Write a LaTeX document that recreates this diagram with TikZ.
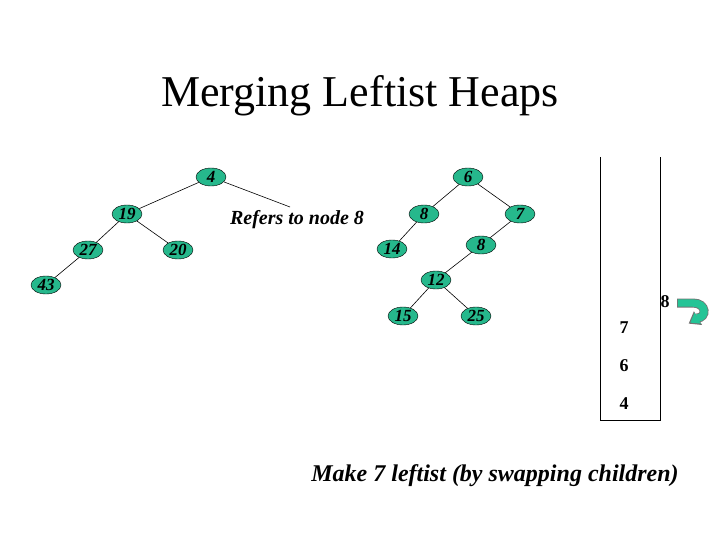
\documentclass[tikz,border=0pt]{standalone}
\usepackage{fontspec}
\setmainfont{Liberation Serif}
\usetikzlibrary{shapes.geometric}
\definecolor{nodegreen}{RGB}{38,184,140}
\definecolor{arrowgreen}{RGB}{36,196,150}
\tikzset{
  hn/.style={ellipse, draw=black, fill=nodegreen, minimum width=30pt, minimum height=18pt, inner sep=0pt, font=\fontsize{17}{17}\selectfont\bfseries\itshape},
  edge/.style={draw=black, line width=0.6pt},
  stk/.style={font=\fontsize{18}{18}\selectfont\bfseries, inner sep=0pt}
}
\begin{document}
\begin{tikzpicture}[x=1pt,y=-1pt]
\useasboundingbox (0,0) rectangle (720,540);
\node[font=\fontsize{44}{44}\selectfont] (title) at (360,96) {Merging Leftist Heaps};
% left heap
\node[hn] (n4) at (211,177) {4};
\node[hn] (n19) at (127,214) {19};
\node[hn] (n27) at (88,250) {27};
\node[hn] (n20) at (178,250) {20};
\node[hn] (n43) at (46,285) {43};
\node[font=\fontsize{20}{20}\selectfont\bfseries\itshape, inner sep=1pt] (ref) at (297,220) {Refers to node 8};
\coordinate (refend) at (290,207);
\draw[edge] (n4) -- (n19);
\draw[edge] (n4) -- (refend);
\draw[edge] (n19) -- (n27);
\draw[edge] (n19) -- (n20);
\draw[edge] (n27) -- (n43);
% right heap
\node[hn] (n6) at (468,177) {6};
\node[hn] (n8a) at (424,214) {8};
\node[hn] (n7) at (520,214) {7};
\node[hn] (n14) at (392,249) {14};
\node[hn] (n8b) at (481,245) {8};
\node[hn] (n12) at (436,280) {12};
\node[hn] (n15) at (403,316) {15};
\node[hn] (n25) at (476,316) {25};
\draw[edge] (n6) -- (n8a);
\draw[edge] (n6) -- (n7);
\draw[edge] (n8a) -- (n14);
\draw[edge] (n7) -- (n8b);
\draw[edge] (n8b) -- (n12);
\draw[edge] (n12) -- (n15);
\draw[edge] (n12) -- (n25);
% stack
\draw[line width=0.8pt] (600,157) -- (600,420) -- (660,420) -- (660,157);
\node[stk] (s7) at (624,328) {7};
\node[stk] (s6) at (624,366) {6};
\node[stk] (s4) at (624,404) {4};
\node[stk] (s8) at (665,302) {8};
% curved arrow
\draw[black!55, line width=9pt] (677,303) -- (693,303) .. controls (707,303) and (707,318) .. (697,318);
\fill[black!55] (693.9,311.2) -- (702.1,325.0) -- (688.7,323.6) -- cycle;
\draw[arrowgreen, line width=7.4pt] (677.8,303) -- (693,303) .. controls (707,303) and (707,318) .. (697,318);
\fill[arrowgreen] (694.6,312.6) -- (700.8,323.6) -- (690.4,322.6) -- cycle;
% caption
\node[font=\fontsize{24}{24}\selectfont\bfseries\itshape] (cap) at (495,476) {Make 7 leftist (by swapping children)};
\end{tikzpicture}
\end{document}
